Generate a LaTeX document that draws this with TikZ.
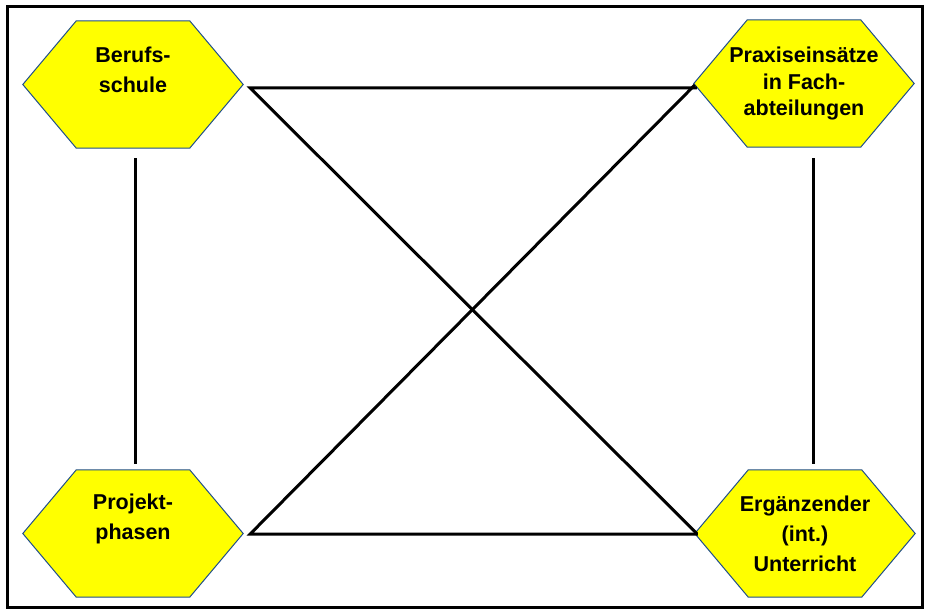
\documentclass[tikz,border=0pt]{standalone}
\usepackage{fontspec}
\setmainfont{Liberation Sans}
\usetikzlibrary{calc,backgrounds}
\definecolor{hexblue}{RGB}{31,78,140}
\definecolor{hexyellow}{RGB}{255,255,0}
\tikzset{
  hexnode/.style={minimum width=220pt, minimum height=127pt, inner sep=0pt, draw=none},
  hextext/.style={font=\bfseries\fontsize{21.5}{30}\selectfont, align=center, inner sep=0pt},
  hexline/.style={draw=hexblue, line width=1pt, fill=hexyellow},
  conn/.style={draw=black, line width=3pt, line join=miter},
}
\begin{document}
\begin{tikzpicture}[x=1pt,y=-1pt]
\useasboundingbox (0,0) rectangle (930,615);
\draw[line width=3pt] (7,7) rectangle (922,607);

\node[hexnode, label={[hextext, yshift=15pt]center:Berufs-\\schule}] (bs) at (133,84.5) {};
\node[hexnode, label={[hextext, font=\bfseries\fontsize{21.5}{26.5}\selectfont]center:Praxiseinsätze\\in Fach-\\abteilungen}] (pr) at (804,83.5) {};
\node[hexnode, label={[hextext, yshift=15pt]center:Projekt-\\phasen}] (pp) at (133,533.5) {};
\node[hexnode, label={[hextext]center:Ergänzender\\(int.)\\Unterricht}] (er) at (805,533.5) {};

\begin{scope}[on background layer]
\fill[white] (0,0) rectangle (930,615);
\foreach \n in {bs,pr,pp,er}{
  \path[hexline] (\n.west) -- ($(\n.north west)+(53.5,0)$) -- ($(\n.north east)+(-53.5,0)$)
    -- (\n.east) -- ($(\n.south east)+(-53.5,0)$) -- ($(\n.south west)+(53.5,0)$) -- cycle;
}
\end{scope}

\draw[conn] ($(pr.west)+(3,4.5)$) -- ($(bs.east)+(7,3.5)$) -- ($(er.west)+(2,0)$);
\draw[conn] ($(pr.west)+(1,1.5)$) -- ($(pp.east)+(7,0.5)$) -- ($(er.west)+(3,0.5)$);
\draw[conn] ($(bs.south)+(2,10)$) -- ($(pp.north)+(2,-6)$);
\draw[conn] ($(pr.south)+(9,11)$) -- ($(er.north)+(8,-6)$);
\end{tikzpicture}
\end{document}
